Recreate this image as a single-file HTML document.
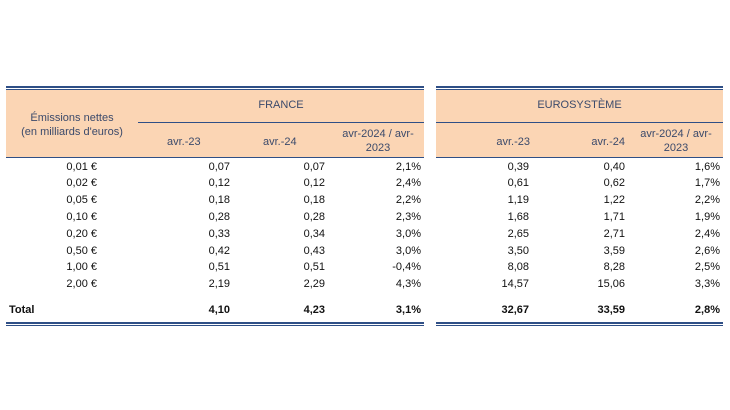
<!DOCTYPE html>
<html><head><meta charset="utf-8"><style>
body{margin:0;width:730px;height:410px;background:#fff;font-family:"Liberation Sans",sans-serif;font-size:11px;color:#111;position:relative;overflow:hidden}
.a{position:absolute;white-space:nowrap;line-height:13px}
.r{text-align:right}
.c{text-align:center}
.h{color:#3b4a6b}
.bg{position:absolute;background:#fbd5b4}
.ln{position:absolute;background:#2f4f86}
b{font-weight:bold}
</style></head><body>
<div class="bg" style="left:6px;top:90px;width:418px;height:67px"></div>
<div class="bg" style="left:436px;top:90px;width:287px;height:67px"></div>
<div class="ln" style="left:6px;top:86px;width:418px;height:2px"></div>
<div class="ln" style="left:6px;top:89px;width:418px;height:1px"></div>
<div class="ln" style="left:436px;top:86px;width:287px;height:2px"></div>
<div class="ln" style="left:436px;top:89px;width:287px;height:1px"></div>
<div class="ln" style="left:138px;top:122px;width:286px;height:1px"></div>
<div class="ln" style="left:436px;top:122px;width:287px;height:1px"></div>
<div class="ln" style="left:6px;top:157px;width:418px;height:1px"></div>
<div class="ln" style="left:436px;top:157px;width:287px;height:1px"></div>
<div class="ln" style="left:6px;top:322px;width:418px;height:2px"></div>
<div class="ln" style="left:6px;top:325px;width:418px;height:1px"></div>
<div class="ln" style="left:436px;top:322px;width:287px;height:2px"></div>
<div class="ln" style="left:436px;top:325px;width:287px;height:1px"></div>

<div class="a c h" style="left:6px;top:111px;width:132px;line-height:14px">Émissions nettes<br>(en milliards d'euros)</div>
<div class="a c h" style="left:138px;top:99px;width:286px">FRANCE</div>
<div class="a c h" style="left:436px;top:99px;width:287px">EUROSYSTÈME</div>
<div class="a h" style="left:167px;top:136px">avr.-23</div>
<div class="a h" style="left:263px;top:136px">avr.-24</div>
<div class="a c h" style="left:330px;top:127px;width:96px;line-height:14px">avr-2024 / avr-<br>2023</div>
<div class="a r h" style="left:470px;top:136px;width:60px">avr.-23</div>
<div class="a r h" style="left:565px;top:136px;width:60px">avr.-24</div>
<div class="a c h" style="left:628px;top:127px;width:96px;line-height:14px">avr-2024 / avr-<br>2023</div>

<div id="rows"></div>
<script>
const labels=["0,01 €","0,02 €","0,05 €","0,10 €","0,20 €","0,50 €","1,00 €","2,00 €"];
const fr23=["0,07","0,12","0,18","0,28","0,33","0,42","0,51","2,19"];
const fr24=["0,07","0,12","0,18","0,28","0,34","0,43","0,51","2,29"];
const frVar=["2,1%","2,4%","2,2%","2,3%","3,0%","3,0%","-0,4%","4,3%"];
const eu23=["0,39","0,61","1,19","1,68","2,65","3,50","8,08","14,57"];
const eu24=["0,40","0,62","1,22","1,71","2,71","3,59","8,28","15,06"];
const euVar=["1,6%","1,7%","2,2%","1,9%","2,4%","2,6%","2,5%","3,3%"];
const total=["Total","4,10","4,23","3,1%","32,67","33,59","2,8%"];
const rights=[230,325,421,529,625,720];
const root=document.getElementById('rows');
function cell(txt,right,top,name,bold){
  const d=document.createElement('div');
  d.className='a r';
  d.style.left=(right-100)+'px';d.style.width='100px';d.style.top=top+'px';
  if(bold)d.style.fontWeight='bold';
  d.textContent=txt;
  
  
  root.appendChild(d);
}
labels.forEach((l,i)=>{
  const y=160.5+i*16.8;
  cell(l,97,y,'denomination-label');
  cell(fr23[i],rights[0],y,'france-avr23-value');
  cell(fr24[i],rights[1],y,'france-avr24-value');
  cell(frVar[i],rights[2],y,'france-change-value');
  cell(eu23[i],rights[3],y,'euro-avr23-value');
  cell(eu24[i],rights[4],y,'euro-avr24-value');
  cell(euVar[i],rights[5],y,'euro-change-value');
});
const t=document.createElement('div');
t.className='a';t.style.left='9px';t.style.top='303.5px';t.style.fontWeight='bold';t.textContent=total[0];


root.appendChild(t);
for(let k=1;k<7;k++){cell(total[k],rights[k-1],303.5,'total-value',true);}
</script>
</body></html>
